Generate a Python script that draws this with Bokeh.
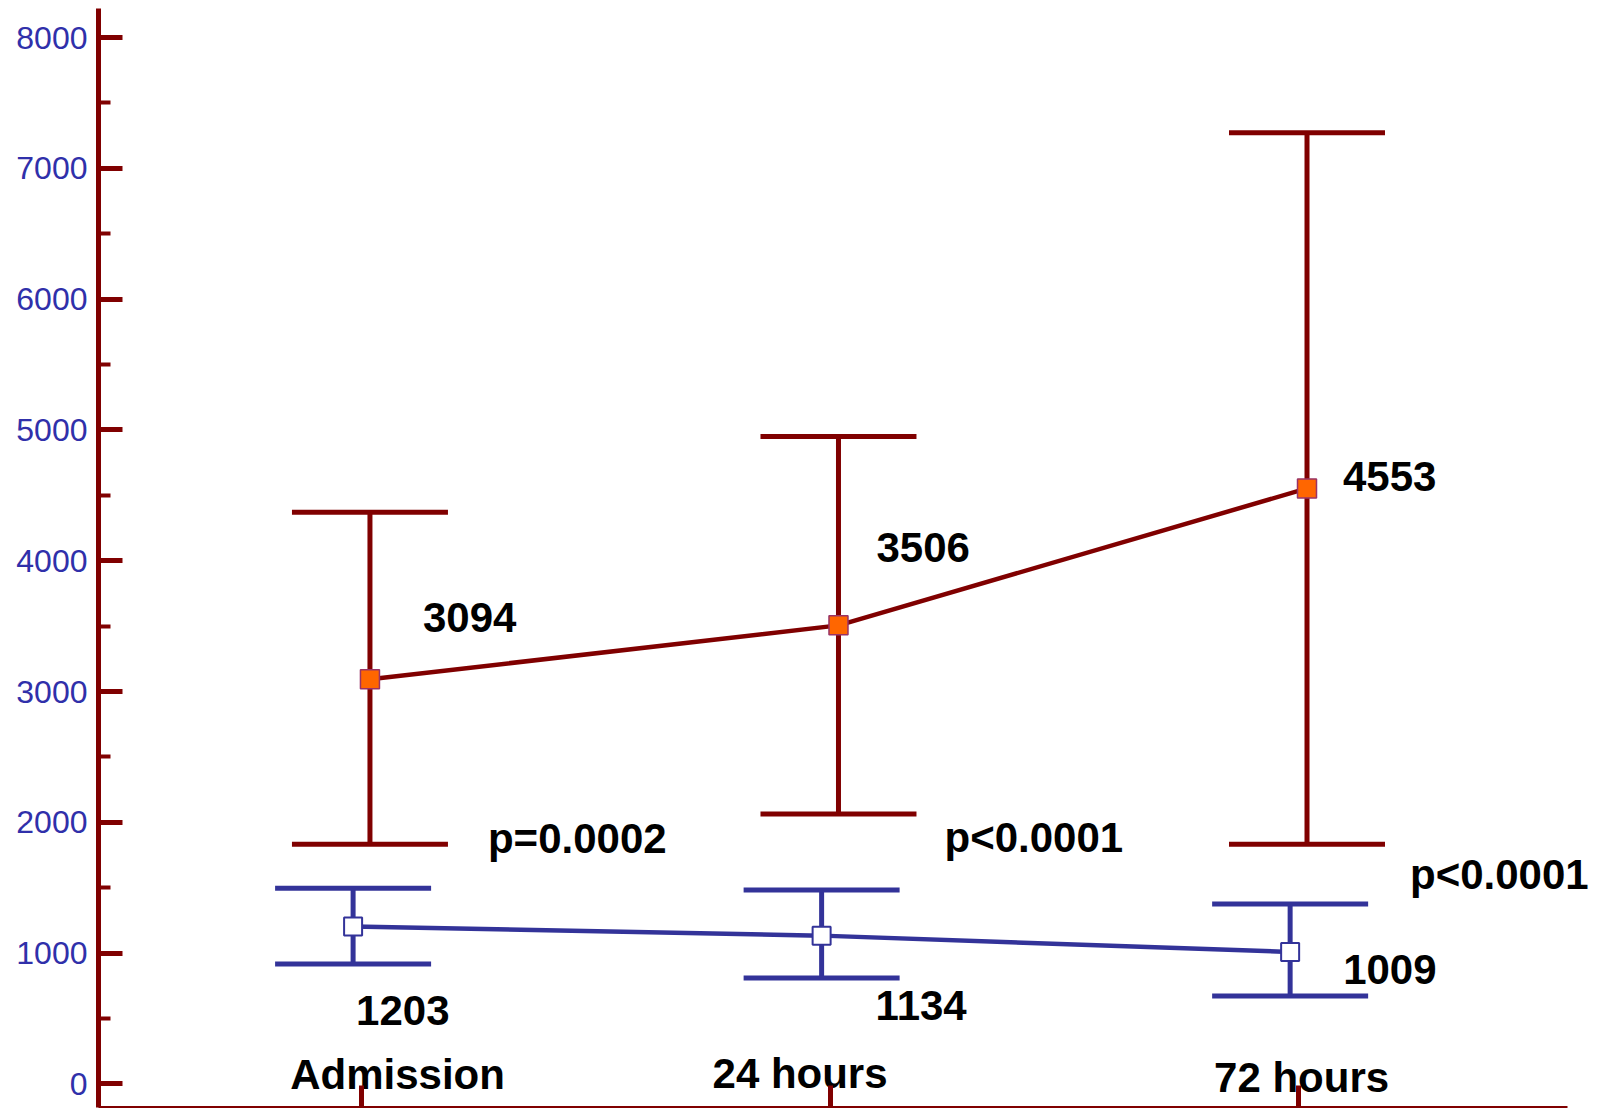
from bokeh.plotting import figure
from bokeh.models import Range1d, FixedTicker, ColumnDataSource, Whisker, TeeHead
from bokeh.core.properties import value
from bokeh.embed import file_html
from bokeh.resources import INLINE

# ---- data ----
categories = ["Admission", "24 hours", "72 hours"]
red_mean = [3094, 3506, 4553]
red_lo = [1833, 2063, 1833]
red_hi = [4370, 4950, 7273]
blue_mean = [1203, 1134, 1009]
blue_lo = [917, 810, 672]
blue_hi = [1497, 1482, 1375]
p_values = ["p=0.0002", "p<0.0001", "p<0.0001"]
y_ticks = [0, 1000, 2000, 3000, 4000, 5000, 6000, 7000, 8000]

RED = "#800000"
BLUE = "#333399"
FONT = "Liberation Sans"

idx = list(range(len(categories)))
dodge = 0.018
x_red = [i + dodge for i in idx]
x_blue = [i - dodge for i in idx]

X0, X1 = -0.5614, 2.574
p = figure(width=1598, height=1108, output_backend="svg", toolbar_location=None,
           x_range=Range1d(X0, X1 + 31 / 468.5), y_range=Range1d(-180, 8222),
           min_border_left=98, min_border_right=0, min_border_top=8, min_border_bottom=1)
p.outline_line_color = None
p.xgrid.grid_line_color = None
p.ygrid.grid_line_color = None
p.background_fill_color = "white"
p.border_fill_color = "white"

# y axis
ya = p.yaxis[0]
ya.ticker = FixedTicker(ticks=y_ticks, minor_ticks=[v + 500 for v in y_ticks[:-1]])
ya.axis_line_color = RED
ya.axis_line_width = 5
ya.major_tick_line_color = RED
ya.major_tick_line_width = 5
ya.major_tick_in = 24
ya.major_tick_out = 0
ya.minor_tick_line_color = RED
ya.minor_tick_line_width = 4
ya.minor_tick_in = 12
ya.minor_tick_out = 0
ya.major_label_text_color = "#3030aa"
ya.major_label_text_font = FONT
ya.major_label_text_font_size = "32px"
ya.major_label_standoff = 11

# x axis
xa = p.xaxis[0]
xa.bounds = (X0, X1)
xa.ticker = FixedTicker(ticks=idx, minor_ticks=[])
xa.axis_line_color = RED
xa.axis_line_width = 3
xa.major_tick_line_color = RED
xa.major_tick_line_width = 5
xa.major_tick_in = 22
xa.major_tick_out = 0
xa.major_label_text_font_size = "0px"
xa.major_label_standoff = 0
xa.major_label_overrides = {i: "" for i in idx}

src_r = ColumnDataSource(dict(x=x_red, m=red_mean, lo=red_lo, hi=red_hi))
src_b = ColumnDataSource(dict(x=x_blue, m=blue_mean, lo=blue_lo, hi=blue_hi))

for src, col in ((src_r, RED), (src_b, BLUE)):
    w = Whisker(source=src, base="x", lower="lo", upper="hi", dimension="height",
                line_color=col, line_width=5,
                upper_head=TeeHead(size=156, line_color=col, line_width=5),
                lower_head=TeeHead(size=156, line_color=col, line_width=5))
    p.add_layout(w)

p.line("x", "m", source=src_r, line_color=RED, line_width=4.5)
p.line("x", "m", source=src_b, line_color=BLUE, line_width=4.5)
p.scatter("x", "m", source=src_r, marker="square", size=19,
          fill_color="#ff6600", line_color="#993366", line_width=1.5)
p.scatter("x", "m", source=src_b, marker="square", size=18,
          fill_color="white", line_color=BLUE, line_width=2)

txt = dict(text_font=value(FONT), text_font_style="bold", text_font_size="42px",
           text_color="black", text_baseline="middle")

# value labels
p.text(x=x_red, y=red_mean, text=[str(v) for v in red_mean], text_align="left",
       x_offset=[53, 38, 36], y_offset=[-62, -78, -12], **txt)
p.text(x=x_blue, y=blue_mean, text=[str(v) for v in blue_mean], text_align="left",
       x_offset=[3, 54, 53], y_offset=[84, 70, 18], **txt)

# p-values, anchored to the lower red whisker end
p.text(x=x_red, y=red_lo, text=p_values, text_align="left",
       x_offset=[118, 106, 103], y_offset=[-6, 23, 30], **txt)

# category labels
p.text(x=idx, y=[0] * len(idx), text=categories, text_align="center",
       x_offset=[36, -30, 3], y_offset=[-9, -10, -6], **txt)

open("out.html", "w").write(file_html(p, INLINE))
